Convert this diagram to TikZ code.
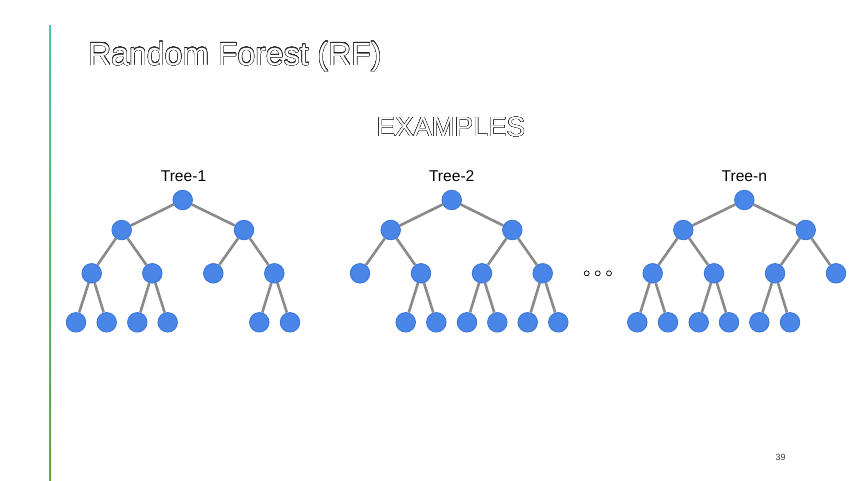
\documentclass[tikz,border=0pt]{standalone}
\usepackage{fontspec}
\setmainfont{Liberation Sans}
\usepackage{contour}
\contourlength{0.35pt}
\contournumber{24}
\definecolor{nodeblue}{HTML}{4A86E8}
\definecolor{nodeedge}{HTML}{3C78D8}
\definecolor{edgegray}{HTML}{8A8A8A}
\definecolor{barteal}{HTML}{4CC9A6}
\definecolor{bargreen}{HTML}{5DAA3A}
\tikzset{
  tn/.style={circle, fill=nodeblue, draw=nodeedge, line width=0.9pt, minimum size=19.5pt, inner sep=0pt},
  br/.style={draw=edgegray, line width=2.6pt},
  dotc/.style={circle, draw=black, line width=0.7pt, fill=white, minimum size=5pt, inner sep=0pt},
  tlabel/.style={anchor=base, inner sep=0pt, font=\fontsize{15.6}{18}\selectfont}
}
\begin{document}
\begin{tikzpicture}[x=1pt,y=-1pt]
\useasboundingbox (0,0) rectangle (853,480);
\fill[white] (0,0) rectangle (853,480);
% left accent bar
\shade[top color=barteal, bottom color=bargreen] (49,25) rectangle (51,480);
% title
\node[anchor=base west, inner sep=0pt, font=\fontsize{32}{38}\selectfont] (title) at (88,65) {\contour{black!85}{\textcolor{white}{Random Forest (RF)}}};
\node[anchor=base, inner sep=0pt, font=\fontsize{27.5}{32}\selectfont] (examples) at (451,136.5) {\contour{black!85}{\textcolor{white}{EXAMPLES}}};
% ---------------- Tree 1
\node[tlabel] (lab1) at (183.5,181.5) {Tree-1};
\node[tn] (t1r) at (182.7,200) {};
\node[tn] (t1a) at (121.7,230) {};
\node[tn] (t1b) at (244,230) {};
\node[tn] (t1aa) at (91.7,273.3) {};
\node[tn] (t1ab) at (152.3,273.3) {};
\node[tn] (t1ba) at (213.3,273.3) {};
\node[tn] (t1bb) at (274.3,273.3) {};
\node[tn] (t1l1) at (76,322.3) {};
\node[tn] (t1l2) at (106.7,322.3) {};
\node[tn] (t1l3) at (137.3,322.3) {};
\node[tn] (t1l4) at (167.7,322.3) {};
\node[tn] (t1l5) at (259.3,322.3) {};
\node[tn] (t1l6) at (290,322.3) {};
\draw[br] (t1r) -- (t1a); \draw[br] (t1r) -- (t1b);
\draw[br] (t1a) -- (t1aa); \draw[br] (t1a) -- (t1ab);
\draw[br] (t1b) -- (t1ba); \draw[br] (t1b) -- (t1bb);
\draw[br] (t1aa) -- (t1l1); \draw[br] (t1aa) -- (t1l2);
\draw[br] (t1ab) -- (t1l3); \draw[br] (t1ab) -- (t1l4);
\draw[br] (t1bb) -- (t1l5); \draw[br] (t1bb) -- (t1l6);
% ---------------- Tree 2
\node[tlabel] (lab2) at (451.7,181.5) {Tree-2};
\node[tn] (t2r) at (451.7,200) {};
\node[tn] (t2a) at (390.7,230) {};
\node[tn] (t2b) at (512.3,230) {};
\node[tn] (t2aa) at (360,273.3) {};
\node[tn] (t2ab) at (421,273.3) {};
\node[tn] (t2ba) at (482,273.3) {};
\node[tn] (t2bb) at (542.7,273.3) {};
\node[tn] (t2l1) at (405.7,322.3) {};
\node[tn] (t2l2) at (436.3,322.3) {};
\node[tn] (t2l3) at (467,322.3) {};
\node[tn] (t2l4) at (497.3,322.3) {};
\node[tn] (t2l5) at (527.7,322.3) {};
\node[tn] (t2l6) at (558.3,322.3) {};
\draw[br] (t2r) -- (t2a); \draw[br] (t2r) -- (t2b);
\draw[br] (t2a) -- (t2aa); \draw[br] (t2a) -- (t2ab);
\draw[br] (t2b) -- (t2ba); \draw[br] (t2b) -- (t2bb);
\draw[br] (t2ab) -- (t2l1); \draw[br] (t2ab) -- (t2l2);
\draw[br] (t2ba) -- (t2l3); \draw[br] (t2ba) -- (t2l4);
\draw[br] (t2bb) -- (t2l5); \draw[br] (t2bb) -- (t2l6);
% ---------------- dots
\node[dotc] (d1) at (586.7,273.3) {};
\node[dotc] (d2) at (597.7,273.3) {};
\node[dotc] (d3) at (609,273.3) {};
% ---------------- Tree n
\node[tlabel] (lab3) at (744.3,181.5) {Tree-n};
\node[tn] (tnr) at (744.3,200) {};
\node[tn] (tna) at (683.3,230) {};
\node[tn] (tnb) at (805.7,230) {};
\node[tn] (tnaa) at (652.7,273.3) {};
\node[tn] (tnab) at (714,273.3) {};
\node[tn] (tnba) at (775,273.3) {};
\node[tn] (tnbb) at (836,273.3) {};
\node[tn] (tnl1) at (637.3,322.3) {};
\node[tn] (tnl2) at (668,322.3) {};
\node[tn] (tnl3) at (698.7,322.3) {};
\node[tn] (tnl4) at (729,322.3) {};
\node[tn] (tnl5) at (759.3,322.3) {};
\node[tn] (tnl6) at (790,322.3) {};
\draw[br] (tnr) -- (tna); \draw[br] (tnr) -- (tnb);
\draw[br] (tna) -- (tnaa); \draw[br] (tna) -- (tnab);
\draw[br] (tnb) -- (tnba); \draw[br] (tnb) -- (tnbb);
\draw[br] (tnaa) -- (tnl1); \draw[br] (tnaa) -- (tnl2);
\draw[br] (tnab) -- (tnl3); \draw[br] (tnab) -- (tnl4);
\draw[br] (tnba) -- (tnl5); \draw[br] (tnba) -- (tnl6);
% page number
\node[anchor=base, inner sep=0pt, font=\fontsize{9}{11}\selectfont, text=black!75] (pnum) at (780.5,460.5) {39};
\end{tikzpicture}
\end{document}
